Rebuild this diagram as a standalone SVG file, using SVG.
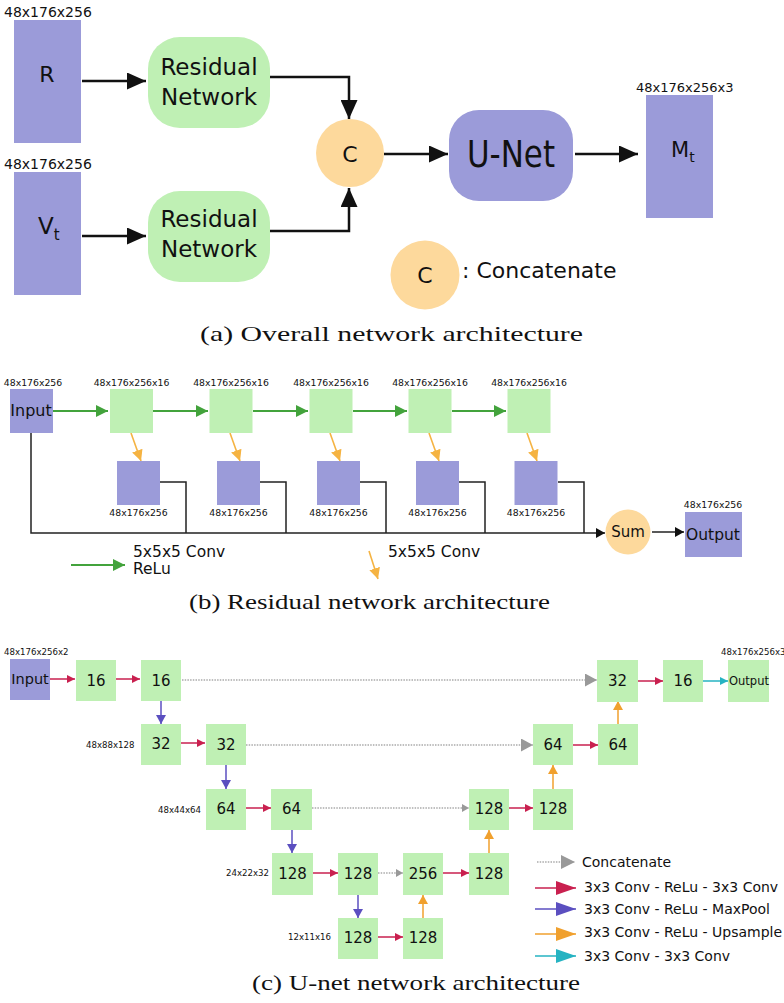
<svg xmlns="http://www.w3.org/2000/svg" width="784" height="1003" viewBox="0 0 784 1003">
<style>
.pu{fill:#9b9bd9}
.gr{fill:#bff0b4}
.or{fill:#fdd99c}
.t{font-family:"DejaVu Sans",sans-serif;fill:#111}
.cap{font-family:"Liberation Serif","DejaVu Serif",serif;font-size:22px;fill:#111}
.s9{font-size:9.3px}
.s85{font-size:8.6px}
.mid{text-anchor:middle}
.bk{stroke:#111;stroke-width:2.5;fill:none}
.bk1{stroke:#222;stroke-width:1.5;fill:none}
.ga{stroke:#43a33c;stroke-width:1.8;fill:none}
.oa{stroke:#f5b342;stroke-width:1.6;fill:none}
.ra{stroke:#c9204f;stroke-width:1.5;fill:none}
.ba{stroke:#5b4fc0;stroke-width:1.5;fill:none}
.ua{stroke:#f0a02e;stroke-width:1.5;fill:none}
.ca{stroke:#26b3c2;stroke-width:1.5;fill:none}
.da{stroke:#aaa;stroke-width:1.3;stroke-dasharray:1.5 1.2;fill:none}
</style>
<defs>
<marker id="mBk" markerUnits="userSpaceOnUse" markerWidth="19" markerHeight="17" refX="19" refY="8.5" orient="auto"><path d="M0,0L19,8.5L0,17z" fill="#111"/></marker>
<marker id="mBkS" markerUnits="userSpaceOnUse" markerWidth="9" markerHeight="10" refX="9" refY="5" orient="auto"><path d="M0,0L9,5L0,10z" fill="#111"/></marker>
<marker id="mG" markerUnits="userSpaceOnUse" markerWidth="12" markerHeight="12" refX="12" refY="6" orient="auto"><path d="M0,0L12,6L0,12z" fill="#43a33c"/></marker>
<marker id="mO" markerUnits="userSpaceOnUse" markerWidth="11" markerHeight="11" refX="11" refY="5.5" orient="auto"><path d="M0,0L11,5.5L0,11z" fill="#f5b342"/></marker>
<marker id="mR" markerUnits="userSpaceOnUse" markerWidth="8" markerHeight="8" refX="8" refY="4" orient="auto"><path d="M0,0L8,4L0,8z" fill="#c9204f"/></marker>
<marker id="mB" markerUnits="userSpaceOnUse" markerWidth="9" markerHeight="10" refX="9" refY="5" orient="auto"><path d="M0,0L9,5L0,10z" fill="#5b4fc0"/></marker>
<marker id="mU" markerUnits="userSpaceOnUse" markerWidth="9" markerHeight="10" refX="9" refY="5" orient="auto"><path d="M0,0L9,5L0,10z" fill="#f0a02e"/></marker>
<marker id="mC" markerUnits="userSpaceOnUse" markerWidth="8" markerHeight="8" refX="8" refY="4" orient="auto"><path d="M0,0L8,4L0,8z" fill="#26b3c2"/></marker>
<marker id="mD" markerUnits="userSpaceOnUse" markerWidth="12" markerHeight="13" refX="12" refY="6.5" orient="auto"><path d="M0,0L12,6.5L0,13z" fill="#999"/></marker>
<marker id="mDs" markerUnits="userSpaceOnUse" markerWidth="7" markerHeight="8" refX="7" refY="4" orient="auto"><path d="M0,0L7,4L0,8z" fill="#999"/></marker>
<marker id="mRL" markerUnits="userSpaceOnUse" markerWidth="20" markerHeight="14" refX="20" refY="7" orient="auto"><path d="M0,0L20,7L0,14z" fill="#c9204f"/></marker>
<marker id="mBL" markerUnits="userSpaceOnUse" markerWidth="20" markerHeight="14" refX="20" refY="7" orient="auto"><path d="M0,0L20,7L0,14z" fill="#5b4fc0"/></marker>
<marker id="mUL" markerUnits="userSpaceOnUse" markerWidth="20" markerHeight="14" refX="20" refY="7" orient="auto"><path d="M0,0L20,7L0,14z" fill="#f0a02e"/></marker>
<marker id="mCL" markerUnits="userSpaceOnUse" markerWidth="20" markerHeight="14" refX="20" refY="7" orient="auto"><path d="M0,0L20,7L0,14z" fill="#26b3c2"/></marker>
<marker id="mDL" markerUnits="userSpaceOnUse" markerWidth="14" markerHeight="14" refX="14" refY="7" orient="auto"><path d="M0,0L14,7L0,14z" fill="#999"/></marker>
</defs>

<!-- (a) Overall -->
<g id="connectors-a">
<line class="bk" x1="82" y1="81" x2="146" y2="81" marker-end="url(#mBk)"/>
<polyline class="bk" points="270,77 349,77 349,119" marker-end="url(#mBk)"/>
<line class="bk" x1="82" y1="236" x2="146" y2="236" marker-end="url(#mBk)"/>
<polyline class="bk" points="270,231 349,231 349,188" marker-end="url(#mBk)"/>
<line class="bk" x1="384" y1="154" x2="448" y2="154" marker-end="url(#mBk)"/>
<line class="bk" x1="575" y1="154" x2="638" y2="154" marker-end="url(#mBk)"/>
</g>
<g id="a-R">
<text class="t" x="4" y="17" font-size="14">48x176x256</text>
<rect class="pu" x="14" y="20" width="67" height="123"/>
<text class="t mid" x="47" y="82" font-size="22">R</text>
</g>
<g id="a-Vt">
<text class="t" x="4" y="169" font-size="14">48x176x256</text>
<rect class="pu" x="14" y="172" width="67" height="123"/>
<text class="t" x="38" y="234" font-size="23">V<tspan font-size="15" dy="6">t</tspan></text>
</g>
<g id="a-RN1">
<rect class="gr" x="148" y="37" width="122" height="91" rx="32"/>
<text class="t mid" x="209" y="75" font-size="23">Residual</text>
<text class="t mid" x="209" y="105" font-size="23">Network</text>
</g>
<g id="a-RN2">
<rect class="gr" x="148" y="191" width="122" height="91" rx="32"/>
<text class="t mid" x="209" y="227" font-size="23">Residual</text>
<text class="t mid" x="209" y="257" font-size="23">Network</text>
</g>
<g id="a-C">
<circle class="or" cx="350" cy="153" r="34"/>
<text class="t mid" x="350" y="162" font-size="22">C</text>
</g>
<g id="a-UNet">
<rect class="pu" x="449" y="110" width="124" height="91" rx="30"/>
<text class="t" x="467" y="167" font-size="37" textLength="88" lengthAdjust="spacingAndGlyphs">U-Net</text>
</g>
<g id="a-Mt">
<text class="t" x="636" y="92" font-size="13">48x176x256x3</text>
<rect class="pu" x="646" y="95" width="67" height="123"/>
<text class="t" x="671" y="157" font-size="21">M<tspan font-size="14" dy="5">t</tspan></text>
</g>
<g id="a-legend">
<circle class="or" cx="425" cy="275" r="34.5"/>
<text class="t mid" x="425" y="283" font-size="22">C</text>
<text class="t" x="462" y="278" font-size="22">: Concatenate</text>
</g>
<text class="cap" x="200" y="341" textLength="383" lengthAdjust="spacingAndGlyphs">(a) Overall network architecture</text>

<!-- (b) Residual -->
<g id="connectors-b">
<line class="ga" x1="53" y1="411" x2="108" y2="411" marker-end="url(#mG)"/>
<line class="ga" x1="153" y1="411" x2="208" y2="411" marker-end="url(#mG)"/>
<line class="ga" x1="253" y1="411" x2="308" y2="411" marker-end="url(#mG)"/>
<line class="ga" x1="353" y1="411" x2="407" y2="411" marker-end="url(#mG)"/>
<line class="ga" x1="452" y1="411" x2="506" y2="411" marker-end="url(#mG)"/>
<line class="oa" x1="131" y1="433" x2="141" y2="461" marker-end="url(#mO)"/>
<line class="oa" x1="230" y1="433" x2="240" y2="461" marker-end="url(#mO)"/>
<line class="oa" x1="330" y1="433" x2="340" y2="461" marker-end="url(#mO)"/>
<line class="oa" x1="429" y1="433" x2="439" y2="461" marker-end="url(#mO)"/>
<line class="oa" x1="527" y1="433" x2="537" y2="461" marker-end="url(#mO)"/>
<polyline class="bk1" points="31,433 31,533 605,533" marker-end="url(#mBkS)"/>
<polyline class="bk1" points="160,482 186,482 186,533"/>
<polyline class="bk1" points="260,482 286,482 286,533"/>
<polyline class="bk1" points="360,482 386,482 386,533"/>
<polyline class="bk1" points="459,482 485,482 485,533"/>
<polyline class="bk1" points="558,482 584,482 584,533"/>
<line class="bk1" x1="652" y1="532" x2="684" y2="532" marker-end="url(#mBkS)"/>
</g>
<g id="b-input">
<text class="t s9 mid" x="33" y="386">48x176x256</text>
<rect class="pu" x="10" y="389" width="43" height="44"/>
<text class="t mid" x="31" y="416" font-size="16">Input</text>
</g>
<g id="b-g1"><text class="t s9 mid" x="131.5" y="386">48x176x256x16</text><rect class="gr" x="110" y="389" width="43" height="44"/></g>
<g id="b-g2"><text class="t s9 mid" x="231" y="386">48x176x256x16</text><rect class="gr" x="209.5" y="389" width="43" height="44"/></g>
<g id="b-g3"><text class="t s9 mid" x="331" y="386">48x176x256x16</text><rect class="gr" x="309.5" y="389" width="43" height="44"/></g>
<g id="b-g4"><text class="t s9 mid" x="430" y="386">48x176x256x16</text><rect class="gr" x="408.5" y="389" width="43" height="44"/></g>
<g id="b-g5"><text class="t s9 mid" x="529" y="386">48x176x256x16</text><rect class="gr" x="507.5" y="389" width="43" height="44"/></g>
<g id="b-p1"><rect class="pu" x="117" y="461" width="43" height="44"/><text class="t s9 mid" x="138.5" y="516">48x176x256</text></g>
<g id="b-p2"><rect class="pu" x="217" y="461" width="43" height="44"/><text class="t s9 mid" x="238.5" y="516">48x176x256</text></g>
<g id="b-p3"><rect class="pu" x="317" y="461" width="43" height="44"/><text class="t s9 mid" x="338.5" y="516">48x176x256</text></g>
<g id="b-p4"><rect class="pu" x="416" y="461" width="43" height="44"/><text class="t s9 mid" x="437.5" y="516">48x176x256</text></g>
<g id="b-p5"><rect class="pu" x="514.5" y="461" width="43" height="44"/><text class="t s9 mid" x="536" y="516">48x176x256</text></g>
<g id="b-sum">
<circle class="or" cx="628" cy="532" r="22.5"/>
<text class="t mid" x="628" y="537" font-size="15">Sum</text>
</g>
<g id="b-output">
<text class="t s9 mid" x="713" y="508">48x176x256</text>
<rect class="pu" x="685" y="512" width="57" height="45"/>
<text class="t mid" x="713" y="540" font-size="15.5">Output</text>
</g>
<g id="b-legend">
<line class="ga" x1="71" y1="565" x2="125" y2="565" marker-end="url(#mG)"/>
<text class="t" x="133" y="557" font-size="15.5">5x5x5 Conv</text>
<text class="t" x="133" y="574" font-size="15.5">ReLu</text>
<line class="oa" x1="369" y1="551" x2="378" y2="579" marker-end="url(#mO)"/>
<text class="t" x="388" y="557" font-size="15.5">5x5x5 Conv</text>
</g>
<text class="cap" x="189" y="609" textLength="361" lengthAdjust="spacingAndGlyphs">(b) Residual network architecture</text>

<!-- (c) U-net -->
<g id="connectors-c">
<line class="ra" x1="50" y1="679" x2="75" y2="679" marker-end="url(#mR)"/>
<line class="ra" x1="116" y1="679" x2="140" y2="679" marker-end="url(#mR)"/>
<line class="ra" x1="181" y1="743" x2="205" y2="743" marker-end="url(#mR)"/>
<line class="ra" x1="246" y1="808" x2="271" y2="808" marker-end="url(#mR)"/>
<line class="ra" x1="312" y1="873" x2="338" y2="873" marker-end="url(#mR)"/>
<line class="ra" x1="378" y1="937" x2="403" y2="937" marker-end="url(#mR)"/>
<line class="ra" x1="443" y1="873" x2="469" y2="873" marker-end="url(#mR)"/>
<line class="ra" x1="509" y1="808" x2="533" y2="808" marker-end="url(#mR)"/>
<line class="ra" x1="573" y1="745" x2="598" y2="745" marker-end="url(#mR)"/>
<line class="ra" x1="638" y1="681" x2="663" y2="681" marker-end="url(#mR)"/>
<line class="ca" x1="703" y1="681" x2="728" y2="681" marker-end="url(#mC)"/>
<line class="ba" x1="161" y1="701" x2="161" y2="724" marker-end="url(#mB)"/>
<line class="ba" x1="226" y1="765" x2="226" y2="789" marker-end="url(#mB)"/>
<line class="ba" x1="292" y1="830" x2="292" y2="853" marker-end="url(#mB)"/>
<line class="ba" x1="358" y1="895" x2="358" y2="918" marker-end="url(#mB)"/>
<line class="ua" x1="423" y1="918" x2="423" y2="895" marker-end="url(#mU)"/>
<line class="ua" x1="489" y1="853" x2="489" y2="830" marker-end="url(#mU)"/>
<line class="ua" x1="553" y1="789" x2="553" y2="765" marker-end="url(#mU)"/>
<line class="ua" x1="618" y1="724" x2="618" y2="701" marker-end="url(#mU)"/>
<line class="da" x1="182" y1="680" x2="597" y2="680" marker-end="url(#mD)"/>
<line class="da" x1="246" y1="745" x2="533" y2="745" marker-end="url(#mD)"/>
<line class="da" x1="312" y1="808" x2="469" y2="808" marker-end="url(#mDs)"/>
<line class="da" x1="378" y1="873" x2="403" y2="873" marker-end="url(#mDs)"/>
</g>
<g id="c-input">
<text class="t s85" x="4" y="655">48x176x256x2</text>
<rect class="pu" x="10" y="659" width="40" height="41"/>
<text class="t mid" x="30" y="684" font-size="14.5">Input</text>
</g>
<g id="c-16a"><rect class="gr" x="76" y="660" width="40" height="41"/><text class="t mid" x="96" y="686" font-size="15">16</text></g>
<g id="c-16b"><rect class="gr" x="141" y="660" width="40" height="41"/><text class="t mid" x="161" y="686" font-size="15">16</text></g>
<g id="c-32a"><text class="t s85" x="86" y="748">48x88x128</text><rect class="gr" x="141" y="724" width="40" height="41"/><text class="t mid" x="161" y="749" font-size="15">32</text></g>
<g id="c-32b"><rect class="gr" x="206" y="724" width="40" height="41"/><text class="t mid" x="226" y="750" font-size="15">32</text></g>
<g id="c-64a"><text class="t s85" x="158" y="813">48x44x64</text><rect class="gr" x="206" y="789" width="40" height="41"/><text class="t mid" x="226" y="814" font-size="15">64</text></g>
<g id="c-64b"><rect class="gr" x="271" y="789" width="41" height="41"/><text class="t mid" x="291.5" y="814" font-size="15">64</text></g>
<g id="c-128a"><text class="t s85" x="226" y="876">24x22x32</text><rect class="gr" x="272" y="853" width="41" height="42"/><text class="t mid" x="292.5" y="879" font-size="15">128</text></g>
<g id="c-128b"><rect class="gr" x="338" y="853" width="40" height="42"/><text class="t mid" x="358" y="879" font-size="15">128</text></g>
<g id="c-128c"><text class="t s85" x="288" y="940">12x11x16</text><rect class="gr" x="338" y="918" width="40" height="41"/><text class="t mid" x="358" y="943" font-size="15">128</text></g>
<g id="c-128d"><rect class="gr" x="403" y="918" width="40" height="41"/><text class="t mid" x="423" y="943" font-size="15">128</text></g>
<g id="c-256"><rect class="gr" x="403" y="853" width="40" height="42"/><text class="t mid" x="423" y="879" font-size="15">256</text></g>
<g id="c-128e"><rect class="gr" x="469" y="853" width="40" height="42"/><text class="t mid" x="489" y="879" font-size="15">128</text></g>
<g id="c-128f"><rect class="gr" x="469" y="789" width="40" height="41"/><text class="t mid" x="489" y="814" font-size="15">128</text></g>
<g id="c-128g"><rect class="gr" x="533" y="789" width="40" height="41"/><text class="t mid" x="553" y="814" font-size="15">128</text></g>
<g id="c-64c"><rect class="gr" x="533" y="724" width="40" height="41"/><text class="t mid" x="553" y="750" font-size="15">64</text></g>
<g id="c-64d"><rect class="gr" x="598" y="724" width="40" height="41"/><text class="t mid" x="618" y="750" font-size="15">64</text></g>
<g id="c-32c"><rect class="gr" x="597" y="660" width="41" height="42"/><text class="t mid" x="617.5" y="686" font-size="15">32</text></g>
<g id="c-16c"><rect class="gr" x="663" y="660" width="40" height="42"/><text class="t mid" x="683" y="686" font-size="15">16</text></g>
<g id="c-output">
<text class="t s85" x="721" y="655">48x176x256x3</text>
<rect class="gr" x="728" y="660" width="41" height="42"/>
<text class="t" x="729" y="685" font-size="13" textLength="40" lengthAdjust="spacingAndGlyphs">Output</text>
</g>
<g id="c-legend">
<line class="da" x1="537" y1="862" x2="575" y2="862" marker-end="url(#mDL)"/>
<text class="t" x="582" y="867" font-size="14">Concatenate</text>
<line class="ra" x1="535" y1="888" x2="576" y2="888" marker-end="url(#mRL)"/>
<text class="t" x="584" y="892" font-size="14">3x3 Conv - ReLu - 3x3 Conv</text>
<line class="ba" x1="535" y1="909" x2="576" y2="909" marker-end="url(#mBL)"/>
<text class="t" x="584" y="914" font-size="14">3x3 Conv - ReLu - MaxPool</text>
<line class="ua" x1="535" y1="934" x2="576" y2="934" marker-end="url(#mUL)"/>
<text class="t" x="584" y="937" font-size="14">3x3 Conv - ReLu - Upsample</text>
<line class="ca" x1="535" y1="956" x2="576" y2="956" marker-end="url(#mCL)"/>
<text class="t" x="584" y="961" font-size="14">3x3 Conv - 3x3 Conv</text>
</g>
<text class="cap" x="252" y="990" textLength="328" lengthAdjust="spacingAndGlyphs">(c) U-net network architecture</text>
</svg>
